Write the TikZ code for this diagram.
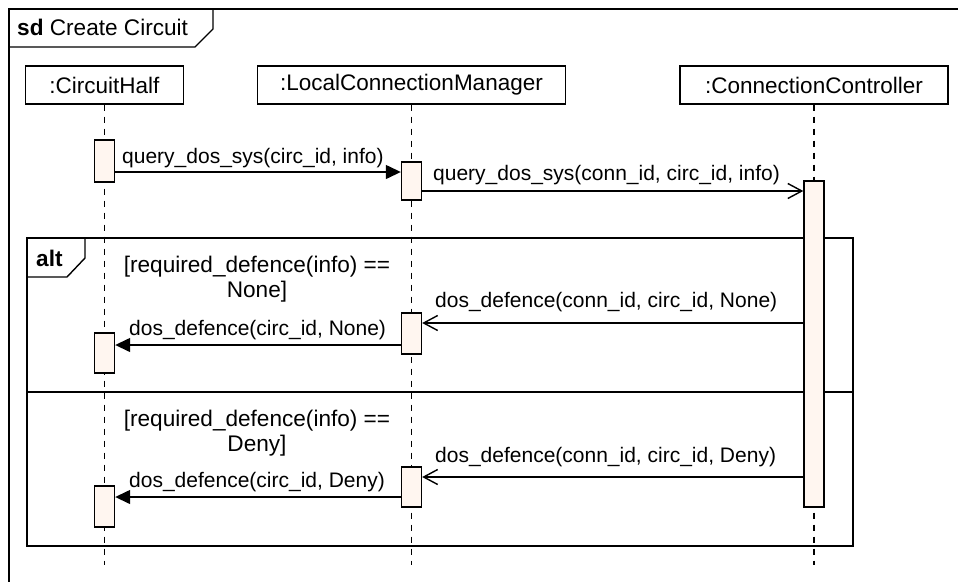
\documentclass[tikz,border=0pt]{standalone}
\usepackage{fontspec}
\setmainfont{Liberation Sans}
\usetikzlibrary{arrows.meta}
\definecolor{actfill}{RGB}{255,246,240}
\tikzset{
  frame/.style={draw=black, line width=1.4pt},
  head/.style={draw=black, line width=1.4pt, fill=white, minimum height=38pt, inner sep=0pt,
               font=\fontsize{22.5}{27}\selectfont},
  act/.style={draw=black, line width=1.4pt, fill=actfill, minimum width=20pt, inner sep=0pt},
  life/.style={draw=black, line width=1.5pt, dash pattern=on 6pt off 6pt},
  sync/.style={draw=black, line width=1.4pt, -{Triangle[length=15pt,width=14pt]}},
  reply/.style={draw=black, line width=1.4pt, -{Straight Barb[length=14pt,width=15pt]}},
  lbl/.style={inner sep=0pt, font=\fontsize{21}{25}\selectfont},
  big/.style={inner sep=0pt, font=\fontsize{22.6}{27}\selectfont},
}
\begin{document}
\begin{tikzpicture}[x=1pt, y=-1pt]
\useasboundingbox[fill=white] (0,0) rectangle (958,581);
\clip (0,0) rectangle (958,581);

% outer interaction frame and its name tab
\draw[frame] (9,600) -- (9,9) -- (980,9);
\draw[frame] (9,47) -- (195,47) -- (213,29) -- (213,9);
\node[big, anchor=base west] (title) at (17,35) {\textbf{sd} Create Circuit};

% lifeline heads
\node[head, minimum width=158pt] (ch)  at (104.5,85) {:CircuitHalf};
\node[head, minimum width=308pt] (lcm) at (411.5,85) {:LocalConnectionManager};
\node[head, minimum width=268pt] (cc)  at (814,85)   {:ConnectionController};

% lifelines
\coordinate (chend)  at (104.5,565);
\coordinate (lcmend) at (411.5,565);
\coordinate (ccend)  at (814,565);
\draw[life] (ch.south)  -- (chend);
\draw[life] (lcm.south) -- (lcmend);
\draw[life] (cc.south)  -- (ccend);

% alt combined fragment
\draw[frame, fill=none] (27,238) rectangle (853,546);
\draw[frame] (27,392) -- (853,392);
\draw[frame] (27,277) -- (67,277) -- (85,258) -- (85,238);
\node[big, anchor=base west] (alt) at (36,266) {\textbf{alt}};

% guards
\node[big, anchor=base] (g1a) at (257,272) {[required\_defence(info) ==};
\node[big, anchor=base] (g1b) at (257,297) {None]};
\node[big, anchor=base] (g2a) at (257,426) {[required\_defence(info) ==};
\node[big, anchor=base] (g2b) at (257,451) {Deny]};

% activation bars
\node[act, minimum height=42pt]  (ch1)  at (104.5,161)  {};
\node[act, minimum height=38pt]  (lcm1) at (411.5,181)  {};
\node[act, minimum height=326pt] (cc1)  at (814,344)    {};
\node[act, minimum height=41pt]  (lcm2) at (411.5,333.5) {};
\node[act, minimum height=40pt]  (ch2)  at (104.5,353)  {};
\node[act, minimum height=40pt]  (lcm3) at (411.5,487)  {};
\node[act, minimum height=41pt]  (ch3)  at (104.5,506.5) {};

% messages
\draw[sync]  (ch1.east |- 0,172)  -- (lcm1.west |- 0,172);
\node[lbl, anchor=base west] at (122,163) {query\_dos\_sys(circ\_id, info)};

\draw[reply] (lcm1.east |- 0,191) -- (cc1.west |- 0,191);
\node[lbl, anchor=base west] at (433,180) {query\_dos\_sys(conn\_id, circ\_id, info)};

\draw[reply] (cc1.west |- 0,323)  -- (lcm2.east |- 0,323);
\node[lbl, anchor=base west] at (435,307) {dos\_defence(conn\_id, circ\_id, None)};

\draw[sync]  (lcm2.west |- 0,345) -- (ch2.east |- 0,345);
\node[lbl, anchor=base west] at (129,335) {dos\_defence(circ\_id, None)};

\draw[reply] (cc1.west |- 0,477)  -- (lcm3.east |- 0,477);
\node[lbl, anchor=base west] at (435,462) {dos\_defence(conn\_id, circ\_id, Deny)};

\draw[sync]  (lcm3.west |- 0,497) -- (ch3.east |- 0,497);
\node[lbl, anchor=base west] at (129,487) {dos\_defence(circ\_id, Deny)};
\end{tikzpicture}
\end{document}
